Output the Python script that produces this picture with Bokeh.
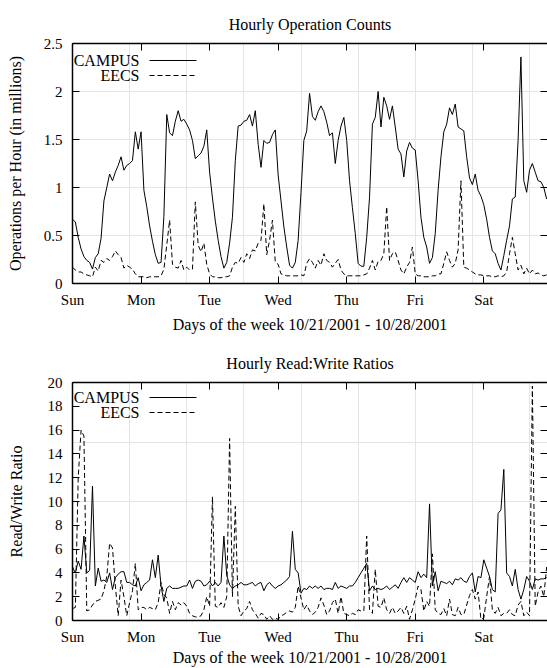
from bokeh.plotting import figure
from bokeh.models import (LinearAxis, FixedTicker, CustomJSTickFormatter, Label, Arrow, Range1d)
from bokeh.layouts import column
from bokeh.embed import file_html
from bokeh.resources import INLINE

FONT = "Liberation Serif"

# ---------------- data ----------------
day_ticks = [0, 24, 48, 72, 96, 120, 144]
day_names = ["Sun", "Mon", "Tue", "Wed", "Thu", "Fri", "Sat"]

ops_ticks = [0, 0.5, 1, 1.5, 2, 2.5]
ops_tick_labels = ["0", "0.5", "1", "1.5", "2", "2.5"]
ratio_ticks = [0, 2, 4, 6, 8, 10, 12, 14, 16, 18, 20]
ratio_tick_labels = ["0", "2", "4", "6", "8", "10", "12", "14", "16", "18", "20"]

series_names = ["CAMPUS", "EECS"]

# Hourly operation counts (millions), one value per hour from Sunday 0:00
ops_campus = [
    0.67, 0.64, 0.48, 0.36, 0.28, 0.24, 0.22, 0.15, 0.27, 0.31, 0.47, 0.86,
    1.00, 1.14, 1.07, 1.16, 1.23, 1.32, 1.18, 1.23, 1.25, 1.28, 1.58, 1.40,
    1.58, 0.97, 0.80, 0.60, 0.44, 0.30, 0.21, 0.22, 0.70, 1.76, 1.57, 1.54,
    1.69, 1.80, 1.69, 1.71, 1.66, 1.60, 1.49, 1.30, 1.33, 1.36, 1.43, 1.60,
    1.16, 0.89, 0.65, 0.45, 0.28, 0.16, 0.22, 0.42, 0.69, 1.28, 1.64, 1.65,
    1.69, 1.70, 1.76, 1.64, 1.80, 1.45, 1.21, 1.49, 1.46, 1.47, 1.55, 1.60,
    1.13, 0.86, 0.59, 0.38, 0.19, 0.16, 0.22, 0.45, 0.95, 1.49, 1.59, 1.98,
    1.74, 1.70, 1.79, 1.85, 1.79, 1.68, 1.54, 1.57, 1.25, 1.49, 1.64, 1.73,
    1.49, 1.07, 0.79, 0.52, 0.21, 0.18, 0.18, 0.48, 0.90, 1.66, 1.73, 2.00,
    1.63, 1.94, 1.85, 1.71, 1.85, 1.63, 1.40, 1.35, 1.11, 1.38, 1.47, 1.41,
    1.39, 1.07, 0.69, 0.48, 0.38, 0.21, 0.27, 0.52, 0.97, 1.32, 1.58, 1.66,
    1.83, 1.76, 1.87, 1.63, 1.61, 1.59, 1.32, 1.10, 1.03, 1.14, 0.97, 0.91,
    0.82, 0.67, 0.48, 0.34, 0.31, 0.21, 0.14, 0.29, 0.45, 0.60, 0.88, 0.90,
    1.49, 2.36, 1.07, 0.95, 1.18, 1.25, 1.16, 1.07, 1.06, 1.00, 0.88,
]
ops_eecs = [
    0.17, 0.14, 0.12, 0.12, 0.10, 0.09, 0.08, 0.07, 0.17, 0.13, 0.24, 0.22,
    0.26, 0.24, 0.28, 0.34, 0.30, 0.27, 0.16, 0.19, 0.17, 0.15, 0.10, 0.07,
    0.07, 0.07, 0.06, 0.07, 0.07, 0.07, 0.07, 0.08, 0.15, 0.40, 0.66, 0.20,
    0.17, 0.16, 0.24, 0.14, 0.17, 0.14, 0.15, 0.85, 0.40, 0.33, 0.42, 0.20,
    0.10, 0.07, 0.07, 0.06, 0.06, 0.07, 0.07, 0.08, 0.17, 0.22, 0.21, 0.27,
    0.22, 0.31, 0.26, 0.35, 0.34, 0.42, 0.45, 0.83, 0.30, 0.45, 0.66, 0.22,
    0.20, 0.10, 0.09, 0.08, 0.08, 0.08, 0.08, 0.08, 0.09, 0.08, 0.21, 0.26,
    0.22, 0.16, 0.24, 0.19, 0.31, 0.24, 0.22, 0.17, 0.21, 0.25, 0.14, 0.10,
    0.08, 0.08, 0.08, 0.08, 0.08, 0.08, 0.09, 0.10, 0.16, 0.24, 0.14, 0.23,
    0.24, 0.31, 0.80, 0.24, 0.31, 0.33, 0.24, 0.14, 0.10, 0.17, 0.22, 0.38,
    0.10, 0.08, 0.08, 0.07, 0.07, 0.07, 0.08, 0.08, 0.10, 0.10, 0.21, 0.33,
    0.24, 0.17, 0.21, 0.35, 1.07, 0.17, 0.16, 0.14, 0.12, 0.10, 0.09, 0.09,
    0.08, 0.08, 0.08, 0.07, 0.07, 0.08, 0.07, 0.08, 0.12, 0.31, 0.48, 0.31,
    0.14, 0.19, 0.10, 0.16, 0.10, 0.14, 0.10, 0.11, 0.09, 0.08, 0.09,
]

# Hourly read:write ratios
rw_campus = [
    4.5, 4.0, 5.0, 4.3, 7.1, 4.0, 4.2, 11.3, 2.9, 4.4, 3.3, 3.4,
    3.2, 4.0, 2.6, 3.6, 3.9, 4.1, 4.1, 3.2, 3.2, 3.0, 2.9, 3.6,
    2.5, 3.0, 3.2, 3.4, 5.1, 3.6, 5.5, 2.9, 1.6, 2.7, 2.9, 2.7,
    2.7, 2.7, 2.8, 2.9, 2.9, 3.4, 2.7, 3.3, 3.4, 3.3, 2.9, 3.0,
    3.3, 2.9, 3.2, 2.9, 3.2, 7.1, 3.8, 3.0, 2.7, 2.9, 3.0, 3.2,
    3.0, 3.0, 3.1, 3.2, 2.9, 3.1, 3.2, 2.5, 3.0, 3.2, 2.9, 2.7,
    2.9, 3.0, 3.2, 3.4, 3.7, 7.5, 4.3, 4.0, 2.3, 2.7, 2.6, 2.9,
    2.7, 2.9, 2.7, 2.9, 2.6, 2.7, 2.7, 2.6, 3.2, 2.7, 2.9, 2.8,
    2.7, 2.9, 2.9, 3.2, 3.6, 4.0, 4.4, 4.8, 2.5, 2.9, 2.6, 2.7,
    2.6, 2.7, 2.9, 2.6, 2.8, 3.0, 2.7, 3.2, 3.6, 3.2, 3.6, 3.4,
    3.2, 4.1, 3.6, 3.9, 3.6, 9.8, 2.9, 4.1, 2.5, 3.3, 3.2, 3.1,
    3.3, 3.0, 3.5, 3.4, 3.6, 3.3, 3.2, 3.7, 4.0, 2.4, 3.7, 3.6,
    5.1, 4.4, 3.7, 2.6, 2.4, 9.0, 9.3, 12.7, 4.0, 3.7, 2.9, 4.3,
    2.6, 1.8, 2.6, 3.7, 3.3, 2.6, 3.5, 3.4, 3.5, 3.5, 3.6,
]
rw_eecs = [
    1.0, 1.1, 12.0, 16.0, 15.5, 0.8, 0.9, 1.3, 1.6, 1.7, 1.8, 2.5,
    3.7, 6.5, 6.1, 2.9, 0.4, 3.4, 2.0, 0.4, 1.5, 2.5, 4.8, 0.9,
    1.1, 1.1, 0.9, 1.1, 1.0, 0.9, 1.5, 3.2, 2.2, 1.9, 0.6, 1.6,
    0.9, 1.5, 1.3, 1.5, 1.2, 0.6, 0.4, 0.3, 0.3, 0.4, 0.9, 2.0,
    1.2, 10.4, 1.2, 1.1, 1.5, 1.1, 2.0, 15.3, 2.0, 9.6, 1.2, 0.4,
    0.8, 1.0, 1.6, 0.9, 0.6, 0.2, 0.6, 0.5, 0.1, 0.4, 0.1, 0.2,
    0.1, 0.4, 0.5, 0.7, 0.8, 0.7, 1.1, 2.9, 1.9, 0.9, 1.3, 0.8,
    0.5, 0.7, 1.1, 1.9, 1.3, 0.5, 0.8, 1.5, 1.8, 0.6, 2.0, 0.6,
    0.5, 0.4, 0.6, 0.5, 0.9, 0.8, 0.8, 7.1, 0.9, 0.6, 4.3, 1.2,
    1.1, 1.9, 0.9, 0.6, 1.1, 0.6, 0.8, 1.1, 0.6, 1.2, 0.1, 0.9,
    1.8, 2.9, 2.6, 0.8, 1.6, 1.2, 5.6, 0.9, 0.6, 0.5, 1.0, 0.4,
    1.8, 0.5, 0.4, 1.1, 0.5, 0.5, 1.3, 2.1, 2.6, 1.8, 2.4, 0.1,
    0.2, 2.0, 3.7, 0.9, 0.6, 1.1, 0.4, 0.6, 0.6, 0.9, 0.5, 0.4,
    1.3, 1.6, 0.4, 0.7, 0.4, 19.7, 1.2, 2.4, 2.9, 2.0, 4.5,
]

hours = list(range(len(ops_campus)))


def label_formatter(vals, names):
    return CustomJSTickFormatter(
        args=dict(tick_vals=vals, tick_names=names),
        code="const i = tick_vals.indexOf(tick); return i >= 0 ? tick_names[i] : '';",
    )


def make_panel(title, ylabel, xlabel, campus, eecs, yticks, ylabels, ymax,
               height, left, top, bottom, xend, ylabel_standoff, xlabel_standoff,
               title_standoff):
    p = figure(width=547, height=height, x_range=Range1d(0, xend), y_range=Range1d(0, ymax),
               output_backend="svg", toolbar_location=None,
               x_axis_location=None, y_axis_location=None,
               min_border_left=left, min_border_right=0,
               min_border_top=top, min_border_bottom=bottom,
               title=title)
    p.outline_line_color = None
    p.background_fill_color = "white"
    p.border_fill_color = "white"
    p.title.text_font = FONT
    p.title.text_font_size = "16px"
    p.title.text_font_style = "normal"
    p.title.text_color = "black"
    p.title.align = "center"
    p.title.standoff = title_standoff

    common = dict(axis_line_color="black", axis_line_width=1.5,
                  major_tick_line_color="black", major_tick_line_width=1,
                  major_tick_in=7, major_tick_out=0,
                  minor_tick_line_color=None,
                  major_label_text_font=FONT,
                  major_label_text_color="black",
                  axis_label_text_font=FONT, axis_label_text_font_size="16px",
                  axis_label_text_font_style="normal", axis_label_text_color="black")

    xb = LinearAxis(ticker=FixedTicker(ticks=day_ticks),
                    formatter=label_formatter(day_ticks, day_names),
                    axis_label=xlabel, major_label_standoff=8,
                    major_label_text_font_size="15px",
                    axis_label_standoff=xlabel_standoff, **common)
    yl = LinearAxis(ticker=FixedTicker(ticks=yticks),
                    formatter=label_formatter(yticks, ylabels),
                    axis_label=ylabel, major_label_standoff=10,
                    major_label_text_font_size="15px",
                    axis_label_standoff=ylabel_standoff, **common)
    xa = LinearAxis(ticker=FixedTicker(ticks=day_ticks),
                    formatter=CustomJSTickFormatter(code="return '';"),
                    major_label_text_font_size="1px", major_label_standoff=0, **common)
    yr = LinearAxis(ticker=FixedTicker(ticks=yticks),
                    formatter=CustomJSTickFormatter(code="return '';"),
                    major_label_text_font_size="1px", major_label_standoff=0, **common)
    yr.axis_line_color = None
    p.add_layout(xb, "below")
    p.add_layout(yl, "left")
    p.add_layout(xa, "above")
    p.add_layout(yr, "right")

    p.line(hours, campus, line_color="black", line_width=1)
    p.line(hours, eecs, line_color="black", line_width=1, line_dash="5 3")

    fh = height - top - bottom
    for i, (name, dash) in enumerate(zip(series_names, ["solid", "5 3"])):
        yy = fh - 17 - 15 * i
        p.add_layout(Label(x=67, y=yy, x_units="screen", y_units="screen", text=name,
                           text_align="right", text_baseline="middle",
                           text_font=FONT, text_font_size="16px", text_color="black"))
        p.add_layout(Arrow(x_start=77, y_start=yy, x_end=124, y_end=yy,
                           start_units="screen", end_units="screen", end=None,
                           line_color="black", line_width=1, line_dash=dash))
    return p


p1 = make_panel("Hourly Operation Counts", "Operations per Hour (in millions)",
                "Days of the week 10/21/2001 - 10/28/2001",
                ops_campus, ops_eecs, ops_ticks, ops_tick_labels, 2.5,
                height=340, left=72, top=43, bottom=57, xend=166.3,
                ylabel_standoff=17, xlabel_standoff=5, title_standoff=22)
p2 = make_panel("Hourly Read:Write Ratios", "Read/Write Ratio",
                "Days of the week 10/21/2001 - 10/28/2001",
                rw_campus, rw_eecs, ratio_ticks, ratio_tick_labels, 20,
                height=328, left=62, top=42, bottom=46, xend=166.3,
                ylabel_standoff=20, xlabel_standoff=1, title_standoff=22)

layout = column(p1, p2, spacing=0)
open("out.html", "w").write(file_html(layout, INLINE))
